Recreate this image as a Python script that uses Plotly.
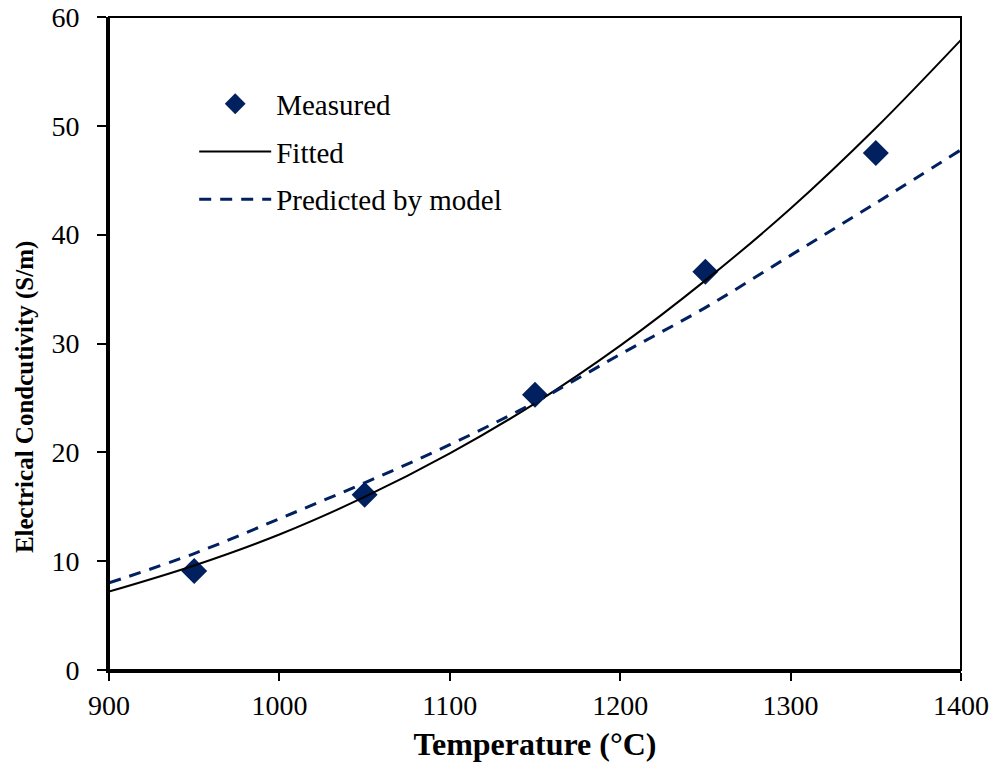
import plotly.graph_objects as go

# Measured data
meas_T = [950, 1050, 1150, 1250, 1350]
meas_sigma = [9.1, 16.1, 25.3, 36.6, 47.5]

# Fitted curve
fit_T = [900, 950, 1000, 1050, 1100, 1150, 1200, 1250, 1300, 1350, 1400]
fit_sigma = [7.2, 9.6, 12.45, 15.9, 19.9, 24.5, 29.8, 35.8, 42.4, 49.8, 57.9]

# Predicted by model
pred_T = [900, 950, 1000, 1050, 1100, 1150, 1200, 1250, 1300, 1350, 1400]
pred_sigma = [8.0, 10.7, 13.9, 17.2, 20.7, 24.6, 29.0, 33.3, 38.1, 42.9, 47.8]

x_ticks = [900, 1000, 1100, 1200, 1300, 1400]
y_ticks = [0, 10, 20, 30, 40, 50, 60]

x_title = "<b>Temperature (°C)</b>"
y_title = "<b>Electrical Condcutivity (S/m)</b>"

navy = "#002060"
font_family = "Liberation Serif, Times New Roman, serif"

fig = go.Figure()
fig.add_trace(go.Scatter(
    x=meas_T, y=meas_sigma, mode="markers", name="Measured",
    marker=dict(symbol="diamond", size=20, color=navy),
    legendgroup="a",
))
fig.add_trace(go.Scatter(
    x=fit_T, y=fit_sigma, mode="lines", name="Fitted",
    line=dict(color="black", width=2, shape="spline"),
    legendgroup="b",
))
fig.add_trace(go.Scatter(
    x=pred_T, y=pred_sigma, mode="lines", name="Predicted by model",
    line=dict(color=navy, width=3, dash="12px,9px", shape="spline"),
    legendgroup="c",
))

fig.update_layout(
    width=993, height=767,
    margin=dict(l=109, r=32, t=17, b=97),
    paper_bgcolor="white", plot_bgcolor="white",
    font=dict(family=font_family, size=28, color="black"),
    showlegend=True,
    legend=dict(
        x=0.10, y=0.906, xanchor="left", yanchor="top",
        bgcolor="rgba(0,0,0,0)", font=dict(size=29),
        tracegroupgap=7, itemwidth=72,
    ),
    xaxis=dict(
        range=[900, 1400], tickvals=x_ticks, ticks="outside", ticklen=8,
        tickwidth=2, tickcolor="black", showline=True, linecolor="black",
        linewidth=3, showgrid=False, zeroline=False, automargin=False,
        tickfont=dict(size=28),
        title=dict(text=x_title, standoff=14, font=dict(size=32)),
    ),
    yaxis=dict(
        range=[0, 60], tickvals=y_ticks, ticks="outside", ticklen=9,
        tickwidth=2, tickcolor="black", showline=True, linecolor="black",
        linewidth=3, showgrid=False, zeroline=False, automargin=False,
        tickfont=dict(size=28), ticklabelstandoff=12,
    ),
    annotations=[dict(
        text=y_title, xref="paper", yref="paper", x=-0.0985, y=0.418,
        xanchor="center", yanchor="middle", textangle=-90, showarrow=False,
        font=dict(size=25),
    )],
    shapes=[dict(type="rect", xref="paper", yref="paper", x0=0, x1=1, y0=0,
                 y1=1, line=dict(color="black", width=2))],
)

fig.write_html("out.html")
